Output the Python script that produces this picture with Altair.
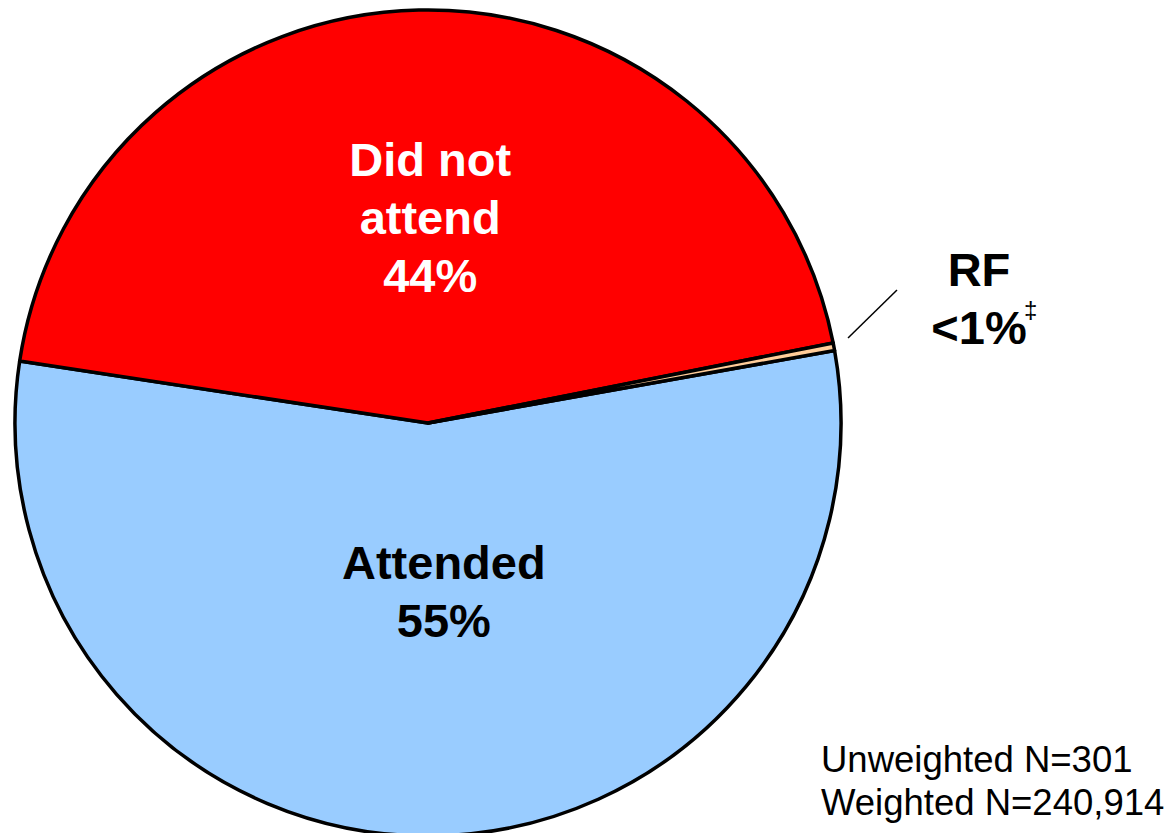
import altair as alt
import pandas as pd
import math

categories = ["Attended", "Did not attend", "RF"]
values = [55.2, 44.5, 0.3]
labels = ["Attended\n55%", "Did not\nattend\n44%", "RF\n<1%"]
colors = ["#99CCFF", "#FF0000", "#FFCC99"]
order = [0, 1, 2]

df = pd.DataFrame({"category": categories, "value": values, "label": labels, "order": order})

start = math.radians(79.9)
theta_scale = alt.Scale(range=[start, start + 2 * math.pi])
CX, CY, R = 420, 415, 413

base = alt.Chart(df).encode(
    theta=alt.Theta("value:Q", stack=True, scale=theta_scale),
    order=alt.Order("order:Q"),
    x=alt.value(CX),
    y=alt.value(CY),
)

pie = base.mark_arc(radius=R, stroke="black", strokeWidth=3.5, strokeJoin="round").encode(
    color=alt.Color("category:N", scale=alt.Scale(domain=categories, range=colors), legend=None)
)

font = "Liberation Sans"
lbl_red = base.mark_text(radius=261, dx=8, fontSize=47, fontWeight="bold", font=font,
                         color="white", lineBreak="\n", lineHeight=58, baseline="middle").encode(
    text=alt.condition(alt.datum.category == "Did not attend", alt.Text("label:N"), alt.value("")))
lbl_blue = base.mark_text(radius=142, dx=14, fontSize=47, fontWeight="bold", font=font,
                          color="black", lineBreak="\n", lineHeight=58, baseline="middle").encode(
    text=alt.condition(alt.datum.category == "Attended", alt.Text("label:N"), alt.value("")))

rf_text = alt.Chart(df).transform_filter(alt.datum.category == "RF").mark_text(
    fontSize=47, fontWeight="bold", font=font, color="black", lineBreak="\n",
    lineHeight=58, baseline="middle", align="center"
).encode(text="label:N", x=alt.value(971), y=alt.value(264))

dagger = alt.Chart(pd.DataFrame({"t": ["‡"]})).mark_text(
    fontSize=24, font=font, color="black", align="left", baseline="middle"
).encode(text="t:N", x=alt.value(1016), y=alt.value(303))

leader = alt.Chart(pd.DataFrame({"a": [1]})).mark_rule(color="black", strokeWidth=1.5).encode(
    x=alt.value(840), y=alt.value(330), x2=alt.value(889), y2=alt.value(282)
)

foot = alt.Chart(pd.DataFrame({"t": ["Unweighted N=301", "Weighted N=240,914"], "i": [0, 1]})).mark_text(
    fontSize=36.5, font=font, color="black", align="left", baseline="alphabetic"
)
foot1 = foot.transform_filter(alt.datum.i == 0).encode(text="t:N", x=alt.value(813), y=alt.value(764))
foot2 = foot.transform_filter(alt.datum.i == 1).encode(text="t:N", x=alt.value(813), y=alt.value(807))

chart = alt.layer(pie, lbl_red, lbl_blue, rf_text, dagger, leader, foot1, foot2).properties(
    width=1158, height=834, autosize=alt.AutoSizeParams(type="none"), padding=0
).configure_view(stroke=None)

chart.save("out.html", embed_options={"renderer": "svg", "actions": False})
